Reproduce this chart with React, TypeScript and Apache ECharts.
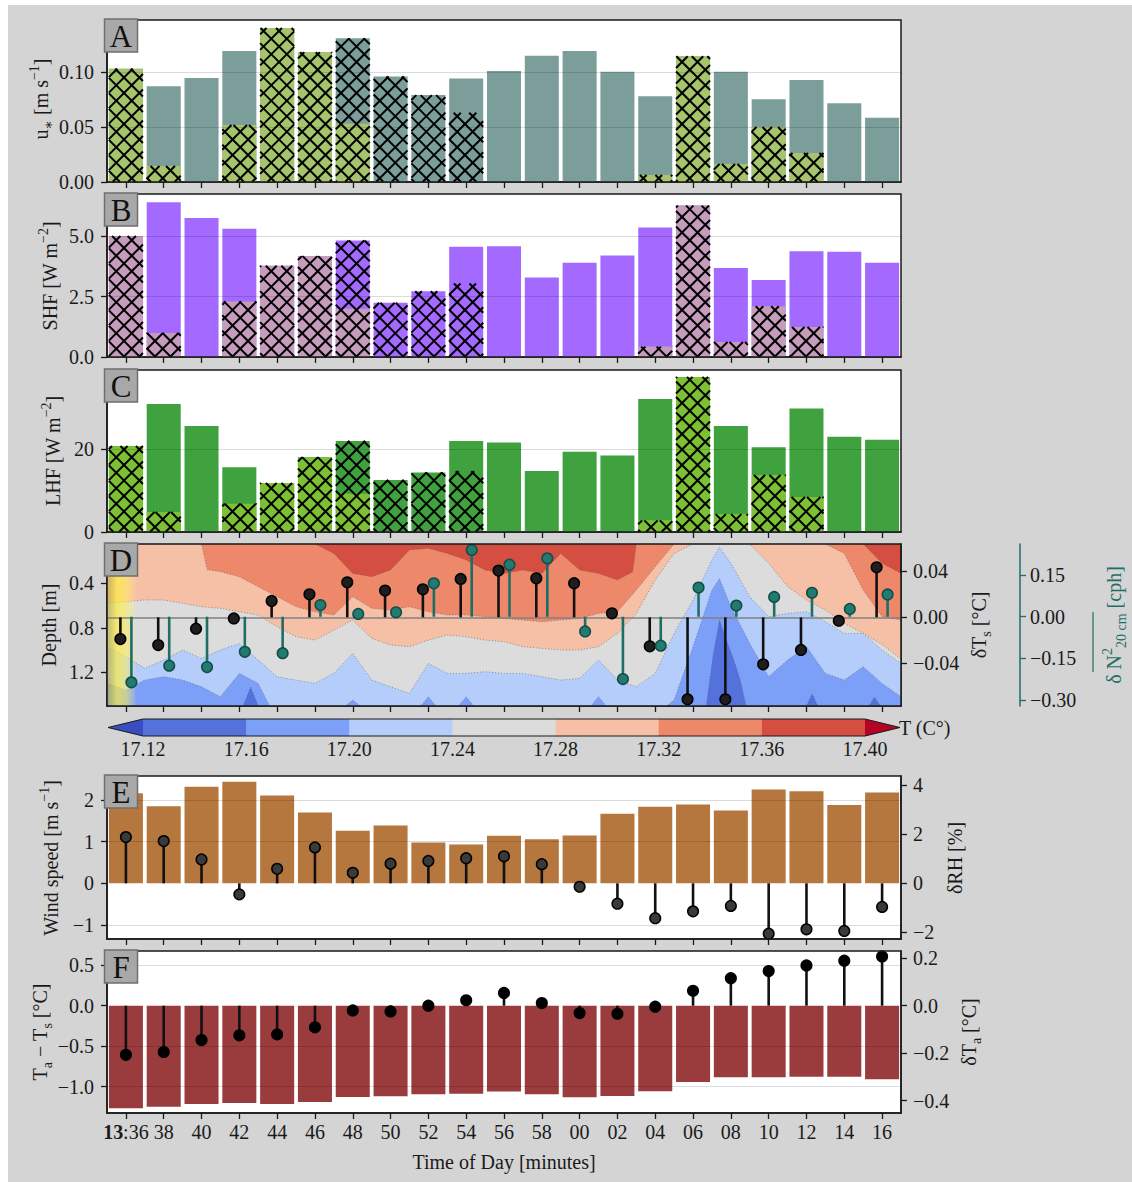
import React, { useEffect, useRef } from 'react';
import * as echarts from 'echarts';

// ---------------------------------------------------------------------------
// Data: 2-minute windows from 13:36 to 14:16
// ---------------------------------------------------------------------------
const slotLabels = ['13:36', '38', '40', '42', '44', '46', '48', '50', '52', '54', '56', '58', '00', '02', '04', '06', '08', '10', '12', '14', '16'];

// A: friction velocity u* [m s-1]
const ustarTotal = [0.103, 0.087, 0.0945, 0.119, 0.140, 0.118, 0.1306, 0.096, 0.079, 0.094, 0.101, 0.1148, 0.119, 0.1003, 0.078, 0.1143, 0.1003, 0.0752, 0.0927, 0.0715, 0.0585];
const ustarSubset = [0.103, 0.0145, 0, 0.0518, 0.140, 0.118, 0.053, 0, 0, 0, 0, 0, 0, 0, 0.0064, 0.1143, 0.0164, 0.050, 0.0264, 0, 0];
const ustarHatched = [0.103, 0.0145, 0, 0.0518, 0.140, 0.118, 0.1306, 0.096, 0.079, 0.063, 0, 0, 0, 0, 0.0064, 0.1143, 0.0164, 0.050, 0.0264, 0, 0];

// B: sensible heat flux [W m-2]
const shfTotal = [5.0, 6.40, 5.75, 5.30, 3.77, 4.17, 4.82, 2.24, 2.72, 4.56, 4.58, 3.29, 3.90, 4.20, 5.35, 6.26, 3.68, 3.18, 4.37, 4.35, 3.90];
const shfSubset = [5.0, 0.99, 0, 2.30, 3.77, 4.17, 2.0, 0, 0, 0, 0, 0, 0, 0, 0.43, 6.26, 0.62, 2.10, 1.24, 0, 0];
const shfHatched = [5.0, 0.99, 0, 2.30, 3.77, 4.17, 4.82, 2.24, 2.72, 3.04, 0, 0, 0, 0, 0.43, 6.26, 0.62, 2.10, 1.24, 0, 0];

// C: latent heat flux [W m-2]
const lhfTotal = [20.7, 30.8, 25.5, 15.6, 11.8, 18.0, 21.9, 12.5, 14.3, 21.9, 21.5, 14.7, 19.3, 18.4, 32.0, 37.3, 25.5, 20.4, 29.7, 22.9, 22.2];
const lhfSubset = [20.7, 4.8, 0, 6.8, 11.8, 18.0, 9.2, 0, 0, 0, 0, 0, 0, 0, 2.8, 37.3, 4.3, 13.7, 8.4, 0, 0];
const lhfHatched = [20.7, 4.8, 0, 6.8, 11.8, 18.0, 21.9, 12.5, 14.3, 14.6, 0, 0, 0, 0, 2.8, 37.3, 4.3, 13.7, 8.4, 0, 0];

// D: surface temperature anomaly [°C] and stratification anomaly [cph]
const deltaTs = [-0.0189, -0.0241, -0.0099, -0.001, 0.0142, 0.020, 0.0304, 0.0232, 0.0243, 0.0333, 0.0406, 0.0339, 0.0296, 0.0035, -0.0252, -0.0713, -0.0713, -0.0409, -0.0284, -0.003, 0.0435];
const deltaN2 = [-0.236, -0.176, -0.181, -0.126, -0.131, 0.042, 0.010, 0.016, 0.120, 0.240, 0.187, 0.210, -0.053, -0.224, -0.104, 0.105, 0.040, 0.071, 0.086, 0.028, 0.080];

// D: water temperature field, as isotherm depths [m] vs minutes after 13:36
const tempLevels = [17.12, 17.16, 17.20, 17.24, 17.28, 17.32, 17.36, 17.40];
const bandColors = ['#3b4cc0', '#5471dc', '#7c9ff8', '#b4cdfa', '#dcdcdc', '#f5c0a6', '#ee886b', '#d44e41', '#b40426'];

const iso1736 = [[-1, 0.05], [10, 0.05], [11, 0.134], [12, 0.313], [13, 0.343], [14, 0.283], [15, 0.104], [16, 0.089], [17, 0.134], [18, 0.193], [19, 0.283], [20, 0.313], [21, 0.283], [22, 0.313], [23, 0.134], [24, 0.283], [25, 0.313], [26, 0.372], [26.8, 0.30], [27, 0.05], [39, 0.05], [40, 0.223], [41, 0.313]];
const iso1732 = [[-1, 0.05], [4, 0.05], [4.3, 0.28], [5, 0.298], [6, 0.343], [7, 0.432], [8, 0.522], [9, 0.611], [10, 0.656], [11, 0.686], [12, 0.522], [13, 0.626], [14, 0.641], [15, 0.611], [16, 0.656], [17, 0.686], [18, 0.686], [19, 0.701], [20, 0.716], [21, 0.731], [22, 0.746], [23, 0.731], [24, 0.716], [25, 0.671], [26, 0.656], [27, 0.462], [28, 0.253], [29, 0.05], [37, 0.05], [38, 0.134], [39, 0.462], [40, 0.701], [41, 0.731]];
const iso1728 = [[-1, 0.581], [0, 0.566], [1, 0.551], [2, 0.551], [3, 0.581], [4, 0.611], [5, 0.626], [6, 0.656], [7, 0.686], [8, 0.790], [9, 0.880], [10, 0.910], [11, 0.820], [12, 0.731], [13, 0.895], [14, 0.954], [15, 0.969], [16, 0.910], [17, 0.865], [18, 0.880], [19, 0.910], [20, 0.925], [21, 0.969], [22, 0.984], [23, 0.999], [24, 0.999], [25, 0.969], [26, 0.850], [27, 0.671], [28, 0.372], [29, 0.134], [30, 0.05], [33, 0.05], [34, 0.223], [35, 0.432], [36, 0.551], [37, 0.641], [38, 0.760], [39, 0.850], [40, 0.950], [41, 1.080]];
const iso1724 = [[-1, 0.969], [0, 1.059], [1, 1.163], [2, 1.089], [3, 0.999], [4, 1.074], [5, 0.999], [6, 0.940], [7, 1.089], [8, 1.238], [9, 1.268], [10, 1.298], [11, 1.208], [12, 1.029], [13, 1.268], [14, 1.328], [15, 1.387], [16, 1.119], [17, 1.208], [18, 1.208], [19, 1.193], [20, 1.208], [21, 1.208], [22, 1.238], [23, 1.268], [24, 1.253], [25, 1.089], [26, 1.268], [27, 1.328], [28, 1.208], [29, 0.850], [30, 0.551], [31, 0.193], [31.4, 0.08], [32, 0.223], [33, 0.522], [34, 0.701], [35, 0.671], [36, 0.656], [37, 0.746], [38, 0.850], [39, 0.850], [40, 1.000], [41, 1.120]];
const iso1720 = [[-1, 1.298], [0, 1.357], [1, 1.268], [2, 1.238], [3, 1.268], [4, 1.328], [5, 1.417], [6, 1.208], [7, 1.298], [7.6, 1.5], [11.6, 1.5], [12, 1.447], [12.4, 1.5], [15.6, 1.5], [16, 1.417], [16.4, 1.5], [17.6, 1.5], [18, 1.417], [18.4, 1.5], [24.6, 1.5], [25, 1.417], [25.4, 1.5], [28.6, 1.5], [29, 1.447], [30, 0.969], [31, 0.462], [31.4, 0.36], [32, 0.611], [33, 0.940], [34, 1.238], [35, 1.089], [36, 0.969], [37, 1.208], [38, 1.268], [39, 1.149], [40, 1.298], [41, 1.417]];
const iso1716 = [[-1, 1.5], [6.2, 1.5], [6.6, 1.33], [7.0, 1.5], [30.7, 1.5], [31.05, 1.06], [31.4, 0.73], [31.76, 0.91], [32.1, 1.06], [32.5, 1.27], [32.8, 1.5], [36.0, 1.5], [36.3, 1.39], [36.6, 1.5], [39.3, 1.5], [39.6, 1.42], [39.9, 1.5], [41, 1.5]];
const isotherms = [
  { level: 17.36, depth: iso1736 },
  { level: 17.32, depth: iso1732 },
  { level: 17.28, depth: iso1728 },
  { level: 17.24, depth: iso1724 },
  { level: 17.20, depth: iso1720 },
  { level: 17.16, depth: iso1716 },
];
// shaded interval at the start of the record (minutes after 13:36)
const shadedSpan = [-1, 0.5];

// E: wind speed [m s-1] and relative humidity anomaly [%]
const windSpeed = [2.16, 1.85, 2.32, 2.44, 2.11, 1.70, 1.26, 1.39, 0.98, 0.93, 1.14, 1.06, 1.15, 1.67, 1.84, 1.89, 1.75, 2.25, 2.21, 1.88, 2.18];
const deltaRH = [1.88, 1.72, 0.97, -0.45, 0.59, 1.46, 0.43, 0.80, 0.91, 1.02, 1.10, 0.78, -0.14, -0.83, -1.42, -1.14, -0.92, -2.05, -1.87, -1.94, -0.96];

// F: air–surface temperature difference and air temperature anomaly [°C]
const airSurfaceDiff = [-1.267, -1.247, -1.214, -1.201, -1.214, -1.189, -1.127, -1.119, -1.094, -1.086, -1.061, -1.094, -1.131, -1.115, -1.057, -0.942, -0.884, -0.884, -0.876, -0.876, -0.909];
const deltaTa = [-0.207, -0.195, -0.145, -0.125, -0.121, -0.091, -0.020, -0.024, 0.0, 0.023, 0.054, 0.011, -0.031, -0.034, -0.004, 0.063, 0.116, 0.146, 0.170, 0.190, 0.208];

// ---------------------------------------------------------------------------
// Styling / layout
// ---------------------------------------------------------------------------
const INK = '#1a1a1a';
const TEAL = '#1f6e66';
const SERIF = "'Liberation Serif', 'DejaVu Serif', 'Times New Roman', serif";
const FS = 20;
const PLOT_X = 107;
const PLOT_W = 794;
const BAR_FRACTION = 0.9;
const HATCH_STEP = 15.5;
const STEM_SHIFT = 5.5;

const panelBoxes = [
  { key: 'A', top: 20, height: 162 },
  { key: 'B', top: 194, height: 163 },
  { key: 'C', top: 370, height: 162 },
  { key: 'D', top: 544, height: 162 },
  { key: 'E', top: 776, height: 163 },
  { key: 'F', top: 951, height: 162 },
];
const CBAR = { left: 143, top: 719, width: 722, height: 17, arrow: 35 };

const fmt = (d: number) => (v: number) => {
  const x = Math.abs(v) < 1e-12 ? 0 : v;
  return x.toFixed(d).replace('-', '\u2212');
};

function catAxis(gridIndex: number, withLabels: boolean) {
  return {
    type: 'category',
    gridIndex,
    data: slotLabels,
    boundaryGap: true,
    axisLine: { show: true, onZero: false, lineStyle: { color: INK, width: 1.5 } },
    axisTick: { show: true, alignWithLabel: true, length: 6, lineStyle: { color: INK, width: 1.3 } },
    axisLabel: withLabels
      ? {
          show: true,
          interval: 0,
          margin: 9,
          fontSize: FS,
          fontFamily: SERIF,
          color: INK,
          formatter: (v: string) => (v.includes(':') ? `{b|${v.split(':')[0]}}:${v.split(':')[1]}` : v),
          rich: { b: { fontWeight: 'bold', fontSize: FS, fontFamily: SERIF, color: INK } },
        }
      : { show: false },
    splitLine: { show: false },
  };
}

function valueAxis(gridIndex: number, min: number, max: number, ticks: number[], decimals: number, opts: any = {}) {
  const lineColor = opts.lineColor || INK;
  return {
    type: 'value',
    gridIndex,
    min,
    max,
    position: opts.position || 'left',
    offset: opts.offset || 0,
    inverse: !!opts.inverse,
    axisLine: { show: true, onZero: false, lineStyle: { color: lineColor, width: 1.5 } },
    axisTick: { show: true, length: 6, customValues: ticks, lineStyle: { color: lineColor, width: 1.3 } },
    axisLabel: {
      show: true,
      customValues: ticks,
      formatter: fmt(decimals),
      fontSize: FS,
      fontFamily: SERIF,
      color: INK,
      margin: opts.margin ?? 13,
    },
    splitLine: { show: false },
  };
}

const overlayGrid = (values: number[]) => ({
  silent: true,
  symbol: 'none',
  label: { show: false },
  lineStyle: { color: 'rgba(0,0,0,0.14)', width: 1, type: 'solid' },
  data: values.map((v) => ({ yAxis: v })),
});

function renderHatch(_params: any, api: any) {
  const i = api.value(0);
  const h = api.value(1);
  if (!h) return null;
  const top = api.coord([i, h]);
  const base = api.coord([i, 0]);
  const bw = api.size([1, 0])[0] * BAR_FRACTION;
  const x0 = top[0] - bw / 2;
  const x1 = top[0] + bw / 2;
  const y0 = Math.min(top[1], base[1]);
  const y1 = Math.max(top[1], base[1]);
  const p = HATCH_STEP;
  const style = { stroke: '#000', lineWidth: 2 };
  const children: any[] = [];
  for (let c = Math.floor((x0 - y1) / p) * p; c <= x1 - y0; c += p) {
    const xa = Math.max(x0, y0 + c);
    const xb = Math.min(x1, y1 + c);
    if (xb > xa) children.push({ type: 'line', shape: { x1: xa, y1: xa - c, x2: xb, y2: xb - c }, style });
  }
  for (let c = Math.floor((x0 + y0) / p) * p; c <= x1 + y1; c += p) {
    const xa = Math.max(x0, c - y1);
    const xb = Math.min(x1, c - y0);
    if (xb > xa) children.push({ type: 'line', shape: { x1: xa, y1: c - xa, x2: xb, y2: c - xb }, style });
  }
  return { type: 'group', children };
}

function stemRenderer(shift: number, lineColor: string, fill: string, stroke: string) {
  return (_params: any, api: any) => {
    const i = api.value(0);
    const v = api.value(1);
    const p0 = api.coord([i, 0]);
    const p1 = api.coord([i, v]);
    const x = p0[0] + shift;
    return {
      type: 'group',
      children: [
        { type: 'line', shape: { x1: x, y1: p0[1], x2: x, y2: p1[1] }, style: { stroke: lineColor, lineWidth: 2.6 } },
        { type: 'circle', shape: { cx: x, cy: p1[1], r: 5.3 }, style: { fill, stroke, lineWidth: 1.5 } },
      ],
    };
  };
}

function fluxSeries(axis: number, total: number[], subset: number[], hatched: number[], cTotal: string, cSubset: string, grid: number[]) {
  return [
    { type: 'bar', xAxisIndex: axis, yAxisIndex: axis, data: total, barWidth: '90%', barGap: '-100%', itemStyle: { color: cTotal }, z: 2, silent: true },
    { type: 'bar', xAxisIndex: axis, yAxisIndex: axis, data: subset, barWidth: '90%', barGap: '-100%', itemStyle: { color: cSubset }, z: 3, silent: true },
    {
      type: 'custom',
      xAxisIndex: axis,
      yAxisIndex: axis,
      data: hatched.map((v, i) => [i, v]),
      renderItem: renderHatch,
      z: 4,
      silent: true,
      markLine: overlayGrid(grid),
    },
  ];
}

function buildOption() {
  const grids = panelBoxes.map((b) => ({
    left: PLOT_X,
    width: PLOT_W,
    top: b.top,
    height: b.height,
    show: true,
    backgroundColor: b.key === 'D' ? bandColors[7] : '#ffffff',
    borderWidth: 0,
  }));
  grids.push({ left: CBAR.left, width: CBAR.width, top: CBAR.top, height: CBAR.height, show: false, backgroundColor: 'transparent', borderWidth: 0 } as any);

  const xAxis: any[] = [
    catAxis(0, false),
    catAxis(1, false),
    catAxis(2, false),
    catAxis(3, false),
    { type: 'value', gridIndex: 3, min: -1, max: 41, show: false },
    catAxis(4, false),
    catAxis(5, true),
    {
      type: 'value',
      gridIndex: 6,
      min: tempLevels[0],
      max: tempLevels[tempLevels.length - 1],
      axisLine: { show: false },
      axisTick: { show: false },
      splitLine: { show: false },
      axisLabel: { customValues: tempLevels, formatter: fmt(2), fontSize: FS, fontFamily: SERIF, color: INK, margin: 3 },
    },
  ];

  const yAxis: any[] = [
    valueAxis(0, 0, 0.1473, [0, 0.05, 0.1], 2),
    valueAxis(1, 0, 6.74, [0, 2.5, 5], 1),
    valueAxis(2, 0, 38.96, [0, 20], 0),
    valueAxis(3, 0.05, 1.5, [0.4, 0.8, 1.2], 1, { inverse: true }),
    valueAxis(3, -0.0771, 0.0637, [-0.04, 0, 0.04], 2, { position: 'right', margin: 12 }),
    valueAxis(3, -0.321, 0.2615, [-0.3, -0.15, 0, 0.15], 2, { position: 'right', offset: 119, lineColor: TEAL, margin: 10 }),
    valueAxis(4, -1.337, 2.576, [-1, 0, 1, 2], 0),
    valueAxis(4, -2.266, 4.366, [-2, 0, 2, 4], 0, { position: 'right', margin: 12 }),
    valueAxis(5, -1.325, 0.675, [-1, -0.5, 0, 0.5], 1),
    valueAxis(5, -0.4527, 0.2308, [-0.4, -0.2, 0, 0.2], 1, { position: 'right', margin: 12 }),
    { type: 'value', gridIndex: 6, min: 0, max: 1, show: false },
  ];

  const contourSeries = isotherms.map((iso, k) => ({
    type: 'line',
    xAxisIndex: 4,
    yAxisIndex: 3,
    data: iso.depth,
    symbol: 'none',
    showSymbol: false,
    smooth: false,
    clip: true,
    silent: true,
    z: 1 + k * 0.1,
    lineStyle: { color: 'rgba(95,95,95,0.6)', width: 0.9, type: [1.2, 1.8] },
    areaStyle: { color: bandColors[tempLevels.indexOf(iso.level)], opacity: 1, origin: 'end' },
  }));

  const shadeSeries = {
    type: 'custom',
    xAxisIndex: 4,
    yAxisIndex: 3,
    data: [[shadedSpan[0], shadedSpan[1]]],
    silent: true,
    z: 2,
    renderItem: (params: any, api: any) => {
      const a = api.coord([api.value(0), 0.05]);
      const b = api.coord([api.value(1), 0.05]);
      const cs = params.coordSys;
      return {
        type: 'rect',
        shape: { x: a[0], y: cs.y, width: b[0] - a[0], height: cs.height },
        style: {
          fill: {
            type: 'linear', x: 0, y: 0, x2: 1, y2: 0,
            colorStops: [
              { offset: 0, color: 'rgba(175,165,60,0.62)' },
              { offset: 0.35, color: 'rgba(255,238,60,0.7)' },
              { offset: 0.7, color: 'rgba(255,240,90,0.55)' },
              { offset: 1, color: 'rgba(255,240,130,0.15)' },
            ],
          },
        },
      };
    },
  };

  const colorbarSeries = {
    type: 'custom',
    xAxisIndex: 7,
    yAxisIndex: 10,
    silent: true,
    data: tempLevels.slice(0, -1).map((lo, k) => [lo, tempLevels[k + 1], k]),
    renderItem: (_params: any, api: any) => {
      const k = api.value(2);
      const p0 = api.coord([api.value(0), 1]);
      const p1 = api.coord([api.value(1), 0]);
      const mid = (p0[1] + p1[1]) / 2;
      const children: any[] = [
        { type: 'rect', shape: { x: p0[0], y: p0[1], width: p1[0] - p0[0] + 0.5, height: p1[1] - p0[1] }, style: { fill: bandColors[k + 1] } },
      ];
      if (k === 0) {
        children.push({ type: 'polygon', shape: { points: [[p0[0] - CBAR.arrow, mid], [p0[0], p0[1]], [p0[0], p1[1]]] }, style: { fill: bandColors[0] } });
        const a = api.coord([tempLevels[0], 1]);
        const b = api.coord([tempLevels[tempLevels.length - 1], 0]);
        children.push({
          type: 'polygon',
          z2: 10,
          shape: { points: [[a[0] - CBAR.arrow, mid], [a[0], a[1]], [b[0], a[1]], [b[0] + CBAR.arrow, mid], [b[0], b[1]], [a[0], b[1]]] },
          style: { fill: 'none', stroke: INK, lineWidth: 1 },
        });
      }
      if (k === tempLevels.length - 2) {
        children.push({ type: 'polygon', shape: { points: [[p1[0] + CBAR.arrow, mid], [p1[0], p0[1]], [p1[0], p1[1]]] }, style: { fill: bandColors[8] } });
      }
      return { type: 'group', children };
    },
  };

  const series: any[] = [
    ...fluxSeries(0, ustarTotal, ustarSubset, ustarHatched, '#7b9e9a', '#a6c46c', [0.05, 0.1]),
    ...fluxSeries(1, shfTotal, shfSubset, shfHatched, '#a46aff', '#c59cbb', [2.5, 5]),
    ...fluxSeries(2, lhfTotal, lhfSubset, lhfHatched, '#3fa23f', '#7cc033', [20]),
    ...contourSeries,
    shadeSeries,
    {
      type: 'custom',
      xAxisIndex: 3,
      yAxisIndex: 4,
      data: deltaTs.map((v, i) => [i, v]),
      renderItem: stemRenderer(-STEM_SHIFT, '#111111', '#1e1e1e', '#000000'),
      z: 6,
      silent: true,
      markLine: { silent: true, symbol: 'none', label: { show: false }, lineStyle: { color: '#808080', width: 1.5, type: 'solid' }, data: [{ yAxis: 0 }] },
    },
    {
      type: 'custom',
      xAxisIndex: 3,
      yAxisIndex: 5,
      data: deltaN2.map((v, i) => [i, v]),
      renderItem: stemRenderer(STEM_SHIFT, TEAL, '#237a70', '#124d46'),
      z: 7,
      silent: true,
    },
    {
      type: 'bar',
      xAxisIndex: 5,
      yAxisIndex: 6,
      data: windSpeed,
      barWidth: '90%',
      itemStyle: { color: '#b6773f' },
      silent: true,
      markLine: overlayGrid([2, 1, -1]),
    },
    {
      type: 'custom',
      xAxisIndex: 5,
      yAxisIndex: 7,
      data: deltaRH.map((v, i) => [i, v]),
      renderItem: stemRenderer(0, '#111111', '#3a3a3a', '#000000'),
      z: 6,
      silent: true,
    },
    {
      type: 'bar',
      xAxisIndex: 6,
      yAxisIndex: 8,
      data: airSurfaceDiff,
      barWidth: '90%',
      itemStyle: { color: '#9a3c3e' },
      silent: true,
      markLine: overlayGrid([0.5, -0.5, -1.0]),
    },
    {
      type: 'custom',
      xAxisIndex: 6,
      yAxisIndex: 9,
      data: deltaTa.map((v, i) => [i, v]),
      renderItem: stemRenderer(0, '#111111', '#000000', '#000000'),
      z: 6,
      silent: true,
    },
    colorbarSeries,
  ];

  // Frames, panel letters and axis titles
  const graphic: any[] = [];
  panelBoxes.forEach((b) => {
    graphic.push({
      type: 'rect',
      z: 100,
      silent: true,
      shape: { x: PLOT_X, y: b.top, width: PLOT_W, height: b.height },
      style: { fill: 'none', stroke: INK, lineWidth: 1.5 },
    });
    graphic.push({
      type: 'rect',
      z: 101,
      silent: true,
      shape: { x: PLOT_X - 2.5, y: b.top - 1, width: 33, height: 33 },
      style: { fill: '#a8a8a8', stroke: '#6f6f6f', lineWidth: 1.5 },
    });
    graphic.push({
      type: 'text',
      z: 102,
      silent: true,
      x: PLOT_X + 14, y: b.top + 16,
      style: { text: b.key, fontSize: 31, fontFamily: SERIF, fill: '#111', align: 'center', verticalAlign: 'middle' },
    });
  });

  const rich = (color: string) => ({
    sup: { fontSize: 14, fontFamily: SERIF, fill: color, verticalAlign: 'top', lineHeight: 14 },
    sub: { fontSize: 14, fontFamily: SERIF, fill: color, verticalAlign: 'bottom', lineHeight: 19 },
  });
  const axisTitles = [
    { x: 41, y: 99, text: 'u{sub|\u2217} [m s{sup|\u22121}]' },
    { x: 50, y: 276, text: 'SHF [W m{sup|\u22122}]' },
    { x: 53, y: 451, text: 'LHF [W m{sup|\u22122}]' },
    { x: 49, y: 625, text: 'Depth [m]' },
    { x: 979, y: 625, text: '\u03b4T{sub|s} [\u00b0C]' },
    { x: 1114, y: 625, text: '\u03b4 N{sup|2}{sub|20 cm} [cph]', color: TEAL },
    { x: 51, y: 858, text: 'Wind speed [m s{sup|\u22121}]' },
    { x: 955, y: 858, text: '\u03b4RH [%]' },
    { x: 40, y: 1032, text: 'T{sub|a} \u2212 T{sub|s} [\u00b0C]' },
    { x: 969, y: 1032, text: '\u03b4T{sub|a} [\u00b0C]' },
  ];
  axisTitles.forEach((t) => {
    const color = (t as any).color || INK;
    graphic.push({
      type: 'text',
      z: 102,
      silent: true,
      x: t.x,
      y: t.y,
      rotation: Math.PI / 2,
      style: {
        text: t.text,
        fontSize: FS,
        fontFamily: SERIF,
        fill: color,
        align: 'center',
        verticalAlign: 'middle',
        lineHeight: 28,
        rich: rich(color),
      },
    });
  });
  // overline on the stratification symbol
  graphic.push({ type: 'line', z: 102, silent: true, shape: { x1: 1093, y1: 612, x2: 1093, y2: 672 }, style: { stroke: TEAL, lineWidth: 1.2 } });
  graphic.push({
    type: 'text', z: 102, silent: true, x: 899, y: 728,
    style: { text: 'T (C\u00b0)', fontSize: FS, fontFamily: SERIF, fill: INK, align: 'left', verticalAlign: 'middle' },
  });
  graphic.push({
    type: 'text', z: 102, silent: true, x: PLOT_X + PLOT_W / 2, y: 1162,
    style: { text: 'Time of Day [minutes]', fontSize: FS, fontFamily: SERIF, fill: INK, align: 'center', verticalAlign: 'middle' },
  });

  return {
    animation: false,
    backgroundColor: 'transparent',
    textStyle: { fontFamily: SERIF, color: INK },
    grid: grids,
    xAxis,
    yAxis,
    series,
    graphic,
  };
}

export default function App() {
  const ref = useRef<HTMLDivElement>(null);
  useEffect(() => {
    if (!ref.current) return;
    const chart = echarts.init(ref.current, null, { renderer: 'svg' });
    chart.setOption(buildOption() as any);
    return () => chart.dispose();
  }, []);
  return (
    <div style={{ position: 'fixed', left: 0, top: 0, width: 1132, height: 1182, background: '#ffffff' }}>
      <div style={{ position: 'absolute', left: 8, top: 5, width: 1124, height: 1177, background: '#d4d4d4' }} />
      <div ref={ref} style={{ position: 'absolute', left: 0, top: 0, width: 1132, height: 1182 }} />
    </div>
  );
}
